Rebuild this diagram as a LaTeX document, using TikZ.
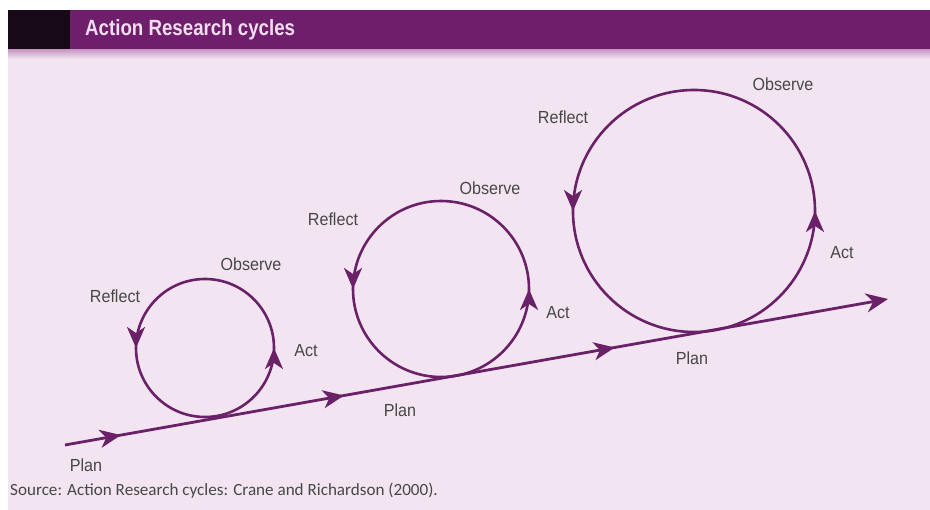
\documentclass[tikz,border=0pt]{standalone}
\usepackage{fontspec}
\setmainfont{Liberation Sans}
\newfontfamily\titlefont[FakeStretch=0.85]{Liberation Sans}
\newfontfamily\lblfont[FakeStretch=0.92]{Liberation Sans}
\newfontfamily\srcfont{Carlito}
\usetikzlibrary{arrows.meta,decorations.markings}
\definecolor{hdr}{HTML}{6F1E6B}
\definecolor{hdrdark}{HTML}{170A16}
\definecolor{bg}{HTML}{F2E5F1}
\definecolor{band}{HTML}{C99BC6}
\definecolor{lin}{HTML}{6A2167}
\definecolor{txt}{HTML}{474747}
\definecolor{ttl}{HTML}{F3DDF0}
\tikzset{
  lbl/.style={font=\lblfont\fontsize{17.5}{19}\selectfont, text=txt, inner sep=0pt},
  cyc/.style={draw=lin, line width=2.6pt, postaction={decorate},
    decoration={markings,
      mark=at position 0.25 with {\arrow{Stealth[length=21pt,width=18pt,inset=6pt]}},
      mark=at position 0.75 with {\arrow{Stealth[length=21pt,width=18pt,inset=6pt]}}}},
  mainln/.style={draw=lin, line width=2.8pt, postaction={decorate},
    -{Stealth[length=22pt,width=19pt,inset=7pt]},
    decoration={markings,
      mark=at position 0.068 with {\arrow{Stealth[length=21pt,width=18pt,inset=6pt]}},
      mark=at position 0.339 with {\arrow{Stealth[length=21pt,width=18pt,inset=6pt]}},
      mark=at position 0.668 with {\arrow{Stealth[length=21pt,width=18pt,inset=6pt]}}}}
}
\begin{document}
\begin{tikzpicture}[x=1pt,y=-1pt]
\useasboundingbox (0,0) rectangle (930,510);
\fill[white] (0,0) rectangle (930,510);
\fill[bg] (8,10) rectangle (930,510);
% header
\fill[hdr] (8,10) rectangle (930,50);
\fill[hdrdark] (8,10) rectangle (70,50);
\shade[top color=band, bottom color=bg] (8,50) rectangle (930,59);
\node[anchor=west, inner sep=0pt, text=ttl, font=\titlefont\bfseries\fontsize{22}{24}\selectfont] (title) at (85,30) {Action Research cycles};

% geometry
\coordinate (p0) at (65,445);
\coordinate (p1) at (888,299);
\coordinate (c1) at (205,348);
\coordinate (c2) at (441,289);
\coordinate (c3) at (694,211);

% cycles
\path[cyc] (c1) ++(0,69) arc[start angle=90, end angle=-270, radius=69];
\path[cyc] (c2) ++(0,88) arc[start angle=90, end angle=-270, radius=88];
\path[cyc] (c3) ++(0,121) arc[start angle=90, end angle=-270, radius=121];

% main line
\path[mainln] (p0) -- (p1);

% labels
\node[lbl] (plan1) at (86,465) {Plan};
\node[lbl] (refl1) at (115,296) {Reflect};
\node[lbl] (obs1) at (251,264) {Observe};
\node[lbl] (act1) at (306,351) {Act};

\node[lbl] (plan2) at (400,410) {Plan};
\node[lbl] (refl2) at (333,219) {Reflect};
\node[lbl] (obs2) at (490,188) {Observe};
\node[lbl] (act2) at (558,313) {Act};

\node[lbl] (plan3) at (692,358) {Plan};
\node[lbl] (refl3) at (563,117) {Reflect};
\node[lbl] (obs3) at (783,84) {Observe};
\node[lbl] (act3) at (842,253) {Act};

\node[anchor=west, inner sep=0pt, text=txt, font=\srcfont\fontsize{17.1}{19}\selectfont] (src) at (10,491) {Source: Action Research cycles: Crane and Richardson (2000).};
\end{tikzpicture}
\end{document}
